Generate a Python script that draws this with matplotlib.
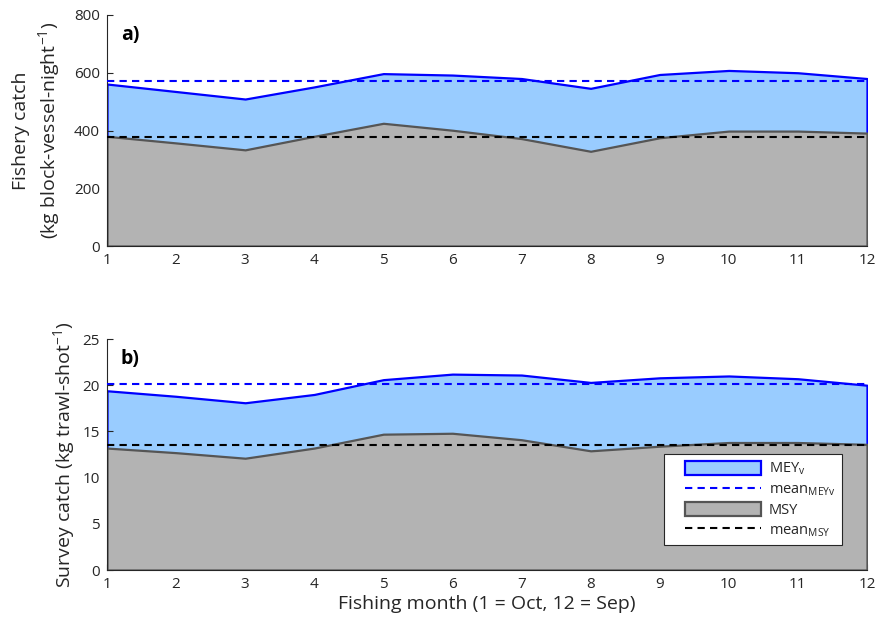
import matplotlib
matplotlib.use("Agg")
import matplotlib.pyplot as plt
from matplotlib.patches import Patch
from matplotlib.lines import Line2D
from matplotlib.legend_handler import HandlerPatch, HandlerLine2D

plt.rcParams['font.family'] = ['Open Sans', 'DejaVu Sans']
plt.rcParams['mathtext.default'] = 'regular'

months = list(range(1, 13))

# a) fishery catch (kg block-vessel-night^-1)
fishery_mey = [561, 535, 509, 551, 597, 592, 580, 546, 594, 608, 600, 580]
fishery_msy = [380, 357, 333, 380, 425, 401, 372, 328, 375, 398, 398, 391]
fishery_mey_mean = 571
fishery_msy_mean = 378

# b) survey catch (kg trawl-shot^-1)
survey_mey = [19.4, 18.8, 18.1, 19.0, 20.6, 21.2, 21.1, 20.3, 20.8, 21.0, 20.7, 20.0]
survey_msy = [13.2, 12.7, 12.1, 13.2, 14.7, 14.8, 14.1, 12.9, 13.4, 13.8, 13.8, 13.6]
survey_mey_mean = 20.1
survey_msy_mean = 13.5

BLUE_FILL = '#99CCFF'
BLUE = '#0000FF'
GREY_FILL = '#B3B3B3'
GREY_EDGE = '#555555'
TXT = '#262626'
DASH = (0, (3.5, 2.5))

fig = plt.figure(figsize=(8.8, 6.3), dpi=100)
ax1 = fig.add_axes([0.1216, 0.6095, 0.8636, 0.3667])
ax2 = fig.add_axes([0.1216, 0.0952, 0.8636, 0.3667])


def draw_panel(ax, mey, msy, mey_mean, msy_mean):
    ax.fill_between(months, 0, mey, facecolor=BLUE_FILL, edgecolor=BLUE, linewidth=1.6, zorder=1)
    ax.fill_between(months, 0, msy, facecolor=GREY_FILL, edgecolor=GREY_EDGE, linewidth=1.6, zorder=2)
    ax.plot([months[0], months[-1]], [mey_mean, mey_mean], color=BLUE, ls=DASH, lw=1.5, zorder=3)
    ax.plot([months[0], months[-1]], [msy_mean, msy_mean], color='black', ls=DASH, lw=1.5, zorder=3)
    ax.set_xlim(1, 12)
    ax.set_xticks(months)
    for s in ['top', 'right']:
        ax.spines[s].set_visible(False)
    for s in ['left', 'bottom']:
        ax.spines[s].set_color(TXT)
        ax.spines[s].set_linewidth(0.8)
    ax.tick_params(direction='in', length=4, width=0.8, colors=TXT, labelsize=11, pad=5)
    for lab in ax.get_xticklabels() + ax.get_yticklabels():
        lab.set_color(TXT)


draw_panel(ax1, fishery_mey, fishery_msy, fishery_mey_mean, fishery_msy_mean)
ax1.set_ylim(0, 800)
ax1.set_yticks([0, 200, 400, 600, 800])
ax1.set_ylabel('Fishery catch\n(kg block-vessel-night$^{-1}$)', fontsize=14, color=TXT,
               linespacing=1.3, labelpad=9)
ax1.text(0.018, 0.955, 'a)', transform=ax1.transAxes, fontsize=14, fontweight='bold', color='black', va='top')

draw_panel(ax2, survey_mey, survey_msy, survey_mey_mean, survey_msy_mean)
ax2.set_ylim(0, 25)
ax2.set_yticks([0, 5, 10, 15, 20, 25])
ax2.set_ylabel('Survey catch (kg trawl-shot$^{-1}$)', fontsize=14, color=TXT)
ax2.set_xlabel('Fishing month (1 = Oct, 12 = Sep)', fontsize=14, color=TXT, labelpad=2)
ax2.text(0.018, 0.955, 'b)', transform=ax2.transAxes, fontsize=14, fontweight='bold', color='black', va='top')

handles = [
    Patch(facecolor=BLUE_FILL, edgecolor=BLUE, linewidth=1.6),
    Line2D([], [], color=BLUE, ls=DASH, lw=1.5),
    Patch(facecolor=GREY_FILL, edgecolor=GREY_EDGE, linewidth=1.6),
    Line2D([], [], color='black', ls=DASH, lw=1.5),
]
labels = ['MEY$_{v}$', 'mean$_{MEYv}$', 'MSY', 'mean$_{MSY}$']
leg = ax2.legend(handles, labels, loc='lower right', bbox_to_anchor=(0.967, 0.108),
                 fontsize=10.5, frameon=True, fancybox=False, edgecolor=TXT,
                 facecolor='white', framealpha=1,
                 handlelength=6.2, handleheight=1.05, labelspacing=0.3, borderpad=0.45,
                 borderaxespad=0, handletextpad=0.5,
                 handler_map={Patch: HandlerPatch(xpad=1.0), Line2D: HandlerLine2D(xpad=1.0)})
leg.get_frame().set_linewidth(0.8)
for t in leg.get_texts():
    t.set_color(TXT)

fig.savefig('out.png', dpi=100)
